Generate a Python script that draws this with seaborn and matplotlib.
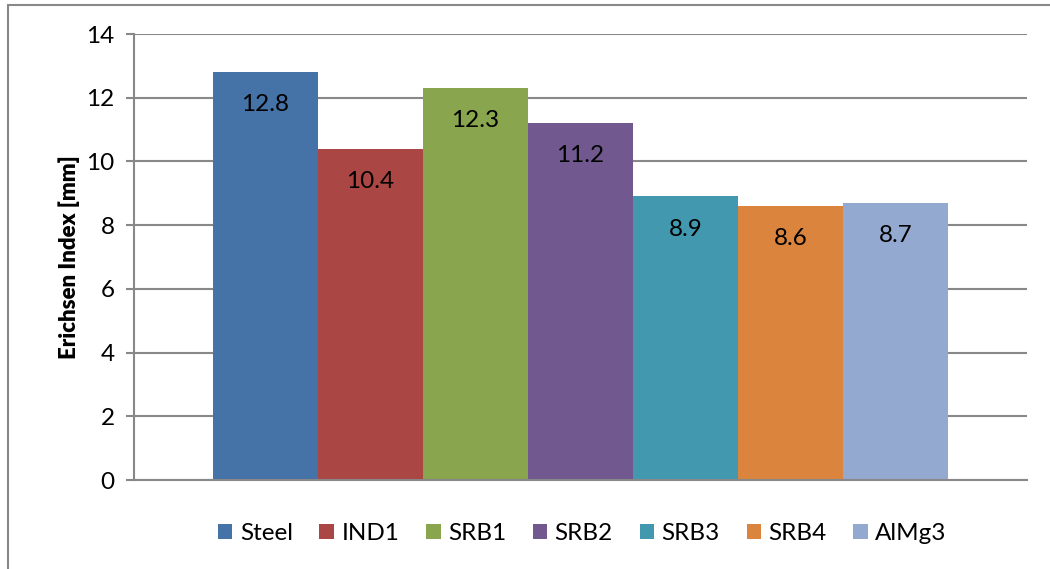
import matplotlib
matplotlib.use('Agg')
import pandas as pd
import matplotlib.pyplot as plt
import seaborn as sns
from matplotlib.patches import Rectangle

# data
materials = ["Steel", "IND1", "SRB1", "SRB2", "SRB3", "SRB4", "AlMg3"]
erichsen = [12.8, 10.4, 12.3, 11.2, 8.9, 8.6, 8.7]
colors = ["#4572A7", "#AA4643", "#89A54E", "#71588F", "#4198AF", "#DB843D", "#93A9CF"]
y_ticks = [0, 2, 4, 6, 8, 10, 12, 14]

sns.set_theme(style="white")
plt.rcParams['font.family'] = ['Lato', 'DejaVu Sans']
plt.rcParams['text.color'] = 'black'
plt.rcParams['ytick.labelcolor'] = 'black'
plt.rcParams['axes.labelcolor'] = 'black'

df = pd.DataFrame({"Material": materials, "Index": erichsen})

fig = plt.figure(figsize=(10.5, 5.69), dpi=100)
ax = fig.add_axes([0.1276, 0.1564, 0.8505, 0.7838])

sns.barplot(data=df, x="Material", y="Index", hue="Material",
            palette=colors, width=1.0, saturation=1, legend=True, ax=ax,
            linewidth=0)

grid_c = "#888888"
fs = 17.5
ax.set_xlim(-1.2524, 7.2524)
ax.set_ylim(0, 14)
ax.set_yticks(y_ticks)
ax.set_xticks([])
ax.set_xlabel("")
ax.set_ylabel("Erichsen Index [mm]", fontsize=16, fontweight='heavy')
ax.yaxis.set_label_coords(-0.061, 0.5)
ax.tick_params(axis='y', labelsize=fs, length=6, width=1.5, color=grid_c,
               left=True, direction='out', pad=8)
ax.yaxis.grid(True, color=grid_c, linewidth=1.5)
ax.set_axisbelow(True)
for s in ["top", "right"]:
    ax.spines[s].set_visible(False)
for s in ["left", "bottom"]:
    ax.spines[s].set_color(grid_c)
    ax.spines[s].set_linewidth(1.5)

for cont in ax.containers:
    ax.bar_label(cont, fmt="%.1f", padding=-31, fontsize=fs, color='black')

handles, labels = ax.get_legend_handles_labels()
ax.legend(handles, labels, loc='center', bbox_to_anchor=(0.502, -0.12), ncol=7,
          frameon=False, fontsize=fs, handlelength=0.6, handleheight=0.6,
          handletextpad=0.3, columnspacing=1.1)

# outer chart border
fig.add_artist(Rectangle((8 / 1050, -0.1), 1.2, 1 - 5 / 569 + 0.1,
                         transform=fig.transFigure, fill=False,
                         edgecolor=grid_c, linewidth=1.5))

fig.savefig("out.png", dpi=100)
